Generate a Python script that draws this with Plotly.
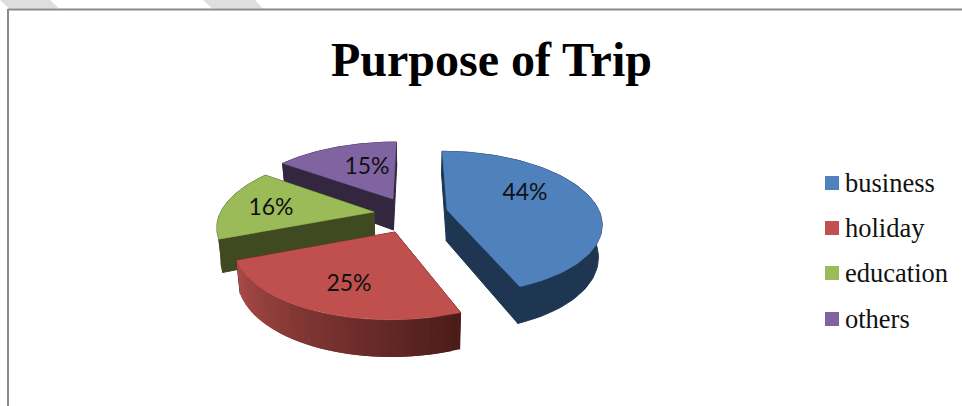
import numpy as np
import plotly.graph_objects as go

# Chart content
title = "Purpose of Trip"
categories = ["business", "holiday", "education", "others"]
shares = [44, 25, 16, 15]

# Slice styling
top_colors = ["#4F81BD", "#C0504D", "#9BBB59", "#8064A2"]
radial_wall_colors = ["#1E3652", "#4E1E1C", "#3F4A20", "#33263F"]
arc_wall_near = [(30, 54, 82), (75, 28, 26), (63, 74, 32), (51, 38, 63)]
arc_wall_far = [(30, 54, 82), (172, 76, 73), (63, 74, 32), (51, 38, 63)]

# Exploded position of each slice's apex on the canvas, in pixels
apex_x = [447, 395, 374, 393]
apex_y = [210, 232, 212, 199]
width_scale = [0.96, 1.0, 0.97, 0.97]
height_scale = [1.0, 1.05, 1.0, 0.97]
label_x = [525, 349, 271, 367]
label_y = [194, 285, 209, 168]

# Tilted-disc projection
RX, RY = 158.0, 69.0
PERSPECTIVE = 0.175
VANISH_X = 415.0
DEPTH = 31.0
DEPTH_FALLOFF = 0.2
BASE_SCALE = 0.98

# Drawing order: back slices first
draw_order = [3, 2, 1, 0]


def rim(i, angle):
    """Top-face position for a rim point; angle is clockwise from 12 o'clock."""
    cx, cy = apex_x[i], apex_y[i]
    side, back = np.sin(angle), np.cos(angle)
    w = 1 + PERSPECTIVE * back
    x = cx + RX * width_scale[i] * side / w + (VANISH_X - cx) * (1 - 1 / w)
    y = cy - RY * height_scale[i] * back / w
    return x, y


def lower(x, y, back):
    """Matching point on the base of the slice."""
    return (VANISH_X + (x - VANISH_X) * BASE_SCALE,
            y + DEPTH * (1 - DEPTH_FALLOFF * back))


def polygon(xs, ys, color, edge=0.0):
    css = color if isinstance(color, str) else "rgb(%d,%d,%d)" % color
    return go.Scatter(x=xs, y=ys, mode="lines", fill="toself", fillcolor=css,
                      line=dict(color=css, width=edge), hoverinfo="skip",
                      showlegend=False)


fig = go.Figure()

bounds = np.cumsum([0] + shares) / sum(shares) * 2 * np.pi
for i in draw_order:
    cx, cy = apex_x[i], apex_y[i]
    a0, a1 = bounds[i], bounds[i + 1]

    # Radial side walls
    for a in (a0, a1):
        rx, ry = rim(i, a)
        bx0, by0 = lower(cx, cy, 0.0)
        bx1, by1 = lower(rx, ry, np.cos(a))
        fig.add_trace(polygon([cx, rx, bx1, bx0, cx], [cy, ry, by1, by0, cy],
                              radial_wall_colors[i], edge=1))

    # Curved outer wall: one piece when flat, short strips when it is shaded
    if arc_wall_near[i] == arc_wall_far[i]:
        arc = np.linspace(a0, a1, 80)
        tx, ty = rim(i, arc)
        bx, by = lower(tx, ty, np.cos(arc))
        fig.add_trace(polygon(np.r_[tx, bx[::-1], tx[0]],
                              np.r_[ty, by[::-1], ty[0]], arc_wall_near[i], edge=1))
    else:
        steps = 36
        edges = np.linspace(a0, a1, steps + 1)
        for k in range(steps):
            tx0, ty0 = rim(i, edges[k])
            tx1, ty1 = rim(i, edges[min(k + 2, steps)])
            bx0, by0 = lower(tx0, ty0, np.cos(edges[k]))
            bx1, by1 = lower(tx1, ty1, np.cos(edges[min(k + 2, steps)]))
            mix = (k + 0.5) / steps
            shade = tuple(int(n + (f - n) * mix)
                          for n, f in zip(arc_wall_near[i], arc_wall_far[i]))
            fig.add_trace(polygon([tx0, tx1, bx1, bx0, tx0],
                                  [ty0, ty1, by1, by0, ty0], shade))

    # Top face
    arc = np.linspace(a0, a1, 80)
    ax, ay = rim(i, arc)
    fig.add_trace(polygon(np.r_[cx, ax, cx], np.r_[cy, ay, cy], top_colors[i], edge=0.5))

# Percentage labels
fig.add_trace(go.Scatter(
    x=label_x, y=label_y, mode="text", text=[f"{v}%" for v in shares],
    textposition="middle center", hoverinfo="skip", showlegend=False,
    textfont=dict(family="Lato", size=23, color="#111111")))

# Key on the right
legend_y = [183, 228, 273, 319]
text_y = [185, 230, 275, 321]
fig.add_trace(go.Scatter(
    x=[832] * len(categories), y=legend_y, mode="markers",
    marker=dict(symbol="square", size=14, color=top_colors, line=dict(width=0)),
    hoverinfo="skip", showlegend=False))
fig.add_trace(go.Scatter(
    x=[845] * len(categories), y=text_y, mode="text", text=categories,
    textposition="middle right", hoverinfo="skip", showlegend=False,
    textfont=dict(family="Liberation Serif", size=26.5, color="#111111")))

stripe = "#DEDEDE"
frame = "#8A8A8A"
shapes = [
    dict(type="path", path="M0,0 L50,0 L59,8.5 L9,8.5 Z",
         fillcolor=stripe, line=dict(width=0), layer="below"),
    dict(type="path", path="M203,0 L255,0 L263,8.5 L212,8.5 Z",
         fillcolor=stripe, line=dict(width=0), layer="below"),
    dict(type="line", x0=8, x1=962, y0=9.5, y1=9.5,
         line=dict(color=frame, width=2), layer="below"),
    dict(type="line", x0=8, x1=8, y0=9, y1=406,
         line=dict(color=frame, width=2), layer="below"),
]

fig.update_layout(
    width=962, height=406, margin=dict(l=0, r=0, t=0, b=0),
    paper_bgcolor="white", plot_bgcolor="white", showlegend=False,
    xaxis=dict(range=[0, 962], visible=False, fixedrange=True),
    yaxis=dict(range=[406, 0], visible=False, fixedrange=True),
    shapes=shapes,
    annotations=[dict(x=491, y=59, xref="x", yref="y", text=f"<b>{title}</b>",
                      showarrow=False, xanchor="center", yanchor="middle",
                      font=dict(family="Liberation Serif", size=48,
                                color="#000000"))],
)

fig.write_html("out.html", config={"displayModeBar": False})
